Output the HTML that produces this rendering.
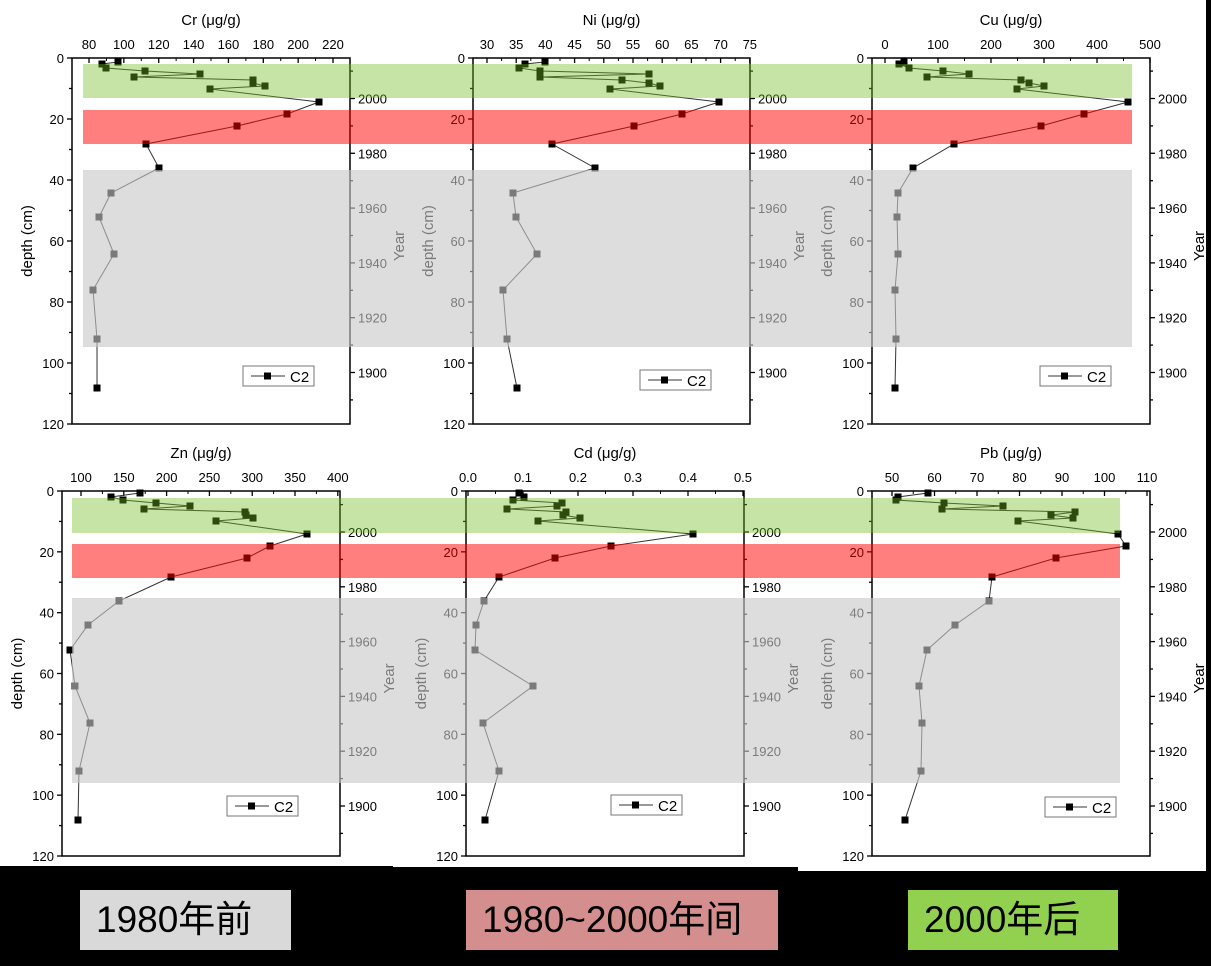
<!DOCTYPE html>
<html><head><meta charset="utf-8">
<style>
html,body{margin:0;padding:0;background:#000;}
#wrap{position:relative;width:1211px;height:966px;overflow:hidden;background:#000;}
svg{position:absolute;left:0;top:0;}
text{font-family:"Liberation Sans",Arial,sans-serif;}
.lab{position:absolute;top:890px;height:60px;line-height:60px;font-family:"Liberation Sans","Noto Sans CJK SC",sans-serif;font-size:37px;color:#000;padding-left:16px;box-sizing:border-box;white-space:nowrap;}
</style></head>
<body><div id="wrap">
<svg id="s" width="1211" height="966" xmlns="http://www.w3.org/2000/svg"></svg>
<div class="lab" style="left:80px;width:211px;background:#d9d9d9;">1980年前</div>
<div class="lab" style="left:466px;width:312px;background:#d48e8e;">1980~2000年间</div>
<div class="lab" style="left:908px;width:210px;background:#92d050;">2000年后</div>
</div>
<script>
var S=document.getElementById('s');var h='';
h+='<rect x="0" y="0" width="393" height="866" fill="#fff"/>';
h+='<rect x="393" y="0" width="405" height="867" fill="#fff"/>';
h+='<rect x="798" y="0" width="408" height="871" fill="#fff"/>';
var topY=[62,64,68,71,74,77,80,83,86,89,102,114,126,144,168,193,217,254,290,339,388];
var botY=[493,497,500,503,506,509,512,515,518,521,534,546,558,577,601,625,650,686,723,771,820];
var P=[
{t:'Cr (μg/g)',L:72,R:350,T:58,B:424,row:0,ticks:[80,100,120,140,160,180,200,220],t0:89,dt:34.86,
 xs:[118,102,106,145,200,134,253,253,265,210,319,287,237,146,159,111,99,114,93,97,97],leg:[243,366]},
{t:'Ni (μg/g)',L:473,R:750,T:58,B:424,row:0,ticks:[30,35,40,45,50,55,60,65,70,75],t0:487,dt:29.2,
 xs:[545,525,519,540,649,540,622,649,660,610,719,682,634,552,595,513,516,537,503,507,517],leg:[640,370]},
{t:'Cu (μg/g)',L:872,R:1150,T:58,B:424,row:0,ticks:[0,100,200,300,400,500],t0:885,dt:53,
 xs:[904,899,909,943,969,927,1021,1029,1044,1017,1128,1084,1041,954,913,898,897,898,895,896,895],leg:[1040,366]},
{t:'Zn (μg/g)',L:62,R:340,T:491,B:856,row:1,ticks:[100,150,200,250,300,350,400],t0:81,dt:42.8,
 xs:[140,111,123,156,190,144,245,246,253,216,307,270,247,171,119,88,70,75,90,79,78],leg:[227,796]},
{t:'Cd (μg/g)',L:466,R:744,T:491,B:856,row:1,ticks:['0.0','0.1','0.2','0.3','0.4','0.5'],t0:468,dt:55,
 xs:[519,524,513,562,557,507,566,563,580,538,693,611,555,499,484,476,475,533,483,499,485],leg:[611,795]},
{t:'Pb (μg/g)',L:872,R:1150,T:491,B:856,row:1,ticks:[50,60,70,80,90,100,110],t0:892,dt:42.5,
 xs:[928,898,896,944,1003,942,1075,1051,1073,1018,1118,1126,1056,992,989,955,927,919,922,921,905],leg:[1045,797]}
];
P.forEach(function(p){
 var ys=p.row?botY:topY; var sc=(p.B-p.T)/120;
 var cx=(p.L+p.R)/2;
 h+='<text x="'+cx+'" y="'+(p.T-33)+'" font-size="15" text-anchor="middle">'+p.t+'</text>';
 p.ticks.forEach(function(v,i){var x=p.t0+i*p.dt;
  h+='<text x="'+x+'" y="'+(p.T-9)+'" font-size="13" text-anchor="middle">'+v+'</text>';
  h+='<line x1="'+x+'" y1="'+p.T+'" x2="'+x+'" y2="'+(p.T+5)+'" stroke="#000" stroke-width="1.3"/>';
  if(i<p.ticks.length-1)h+='<line x1="'+(x+p.dt/2)+'" y1="'+p.T+'" x2="'+(x+p.dt/2)+'" y2="'+(p.T+3)+'" stroke="#000"/>';
 });
 for(var d=0;d<=120;d+=10){var y=p.T+d*sc;var mj=d%20==0;
  h+='<line x1="'+(p.L-(mj?5:3))+'" y1="'+y+'" x2="'+p.L+'" y2="'+y+'" stroke="#000" stroke-width="1.3"/>';
  if(mj)h+='<text x="'+(p.L-8)+'" y="'+(y+5)+'" font-size="13" text-anchor="end">'+d+'</text>';}
 var y2000=p.row?532:98.5;var yr=27.4;
 for(var k=-1;k<=11;k++){var y=y2000+k*yr;if(y<p.T+3||y>p.B-3)continue;var mj=k%2==0;
  h+='<line x1="'+p.R+'" y1="'+y+'" x2="'+(p.R+(mj?5:3))+'" y2="'+y+'" stroke="#000" stroke-width="1.3"/>';
  if(mj&&k>=0)h+='<text x="'+(p.R+8)+'" y="'+(y+5)+'" font-size="13">'+(2000-k*10)+'</text>';}
 var my=(p.T+p.B)/2;
 h+='<text transform="translate('+(p.L-40)+','+my+') rotate(-90)" font-size="15" text-anchor="middle">depth (cm)</text>';
 h+='<text transform="translate('+(p.R+54)+','+(my+5)+') rotate(-90)" font-size="15" text-anchor="middle">Year</text>';
 h+='<rect x="'+p.L+'" y="'+p.T+'" width="'+(p.R-p.L)+'" height="'+(p.B-p.T)+'" fill="none" stroke="#000" stroke-width="1.5"/>';
 var pts=p.xs.map(function(x,i){return x+','+ys[i];}).join(' ');
 h+='<polyline points="'+pts+'" fill="none" stroke="#333" stroke-width="1"/>';
 p.xs.forEach(function(x,i){h+='<rect x="'+(x-3.5)+'" y="'+(ys[i]-3.5)+'" width="7" height="7" fill="#000"/>';});
 var lx=p.leg[0],ly=p.leg[1];
 h+='<rect x="'+lx+'" y="'+ly+'" width="71" height="20" fill="#fff" stroke="#777"/>';
 h+='<line x1="'+(lx+8)+'" y1="'+(ly+10)+'" x2="'+(lx+42)+'" y2="'+(ly+10)+'" stroke="#333"/>';
 h+='<rect x="'+(lx+21)+'" y="'+(ly+6.5)+'" width="7" height="7" fill="#000"/>';
 h+='<text x="'+(lx+47)+'" y="'+(ly+16)+'" font-size="15">C2</text>';
});
h+='<rect x="83" y="64" width="1049" height="34" fill="rgb(110,188,30)" fill-opacity="0.4"/>';
h+='<rect x="83" y="110" width="1049" height="34" fill="rgb(255,0,0)" fill-opacity="0.5"/>';
h+='<rect x="83" y="170" width="1049" height="177" fill="rgb(200,200,200)" fill-opacity="0.61"/>';
h+='<rect x="72" y="498" width="1048" height="35" fill="rgb(110,188,30)" fill-opacity="0.4"/>';
h+='<rect x="72" y="544" width="1048" height="34" fill="rgb(255,0,0)" fill-opacity="0.5"/>';
h+='<rect x="72" y="598" width="1048" height="185" fill="rgb(200,200,200)" fill-opacity="0.61"/>';
S.innerHTML=h;
</script>
</body></html>
